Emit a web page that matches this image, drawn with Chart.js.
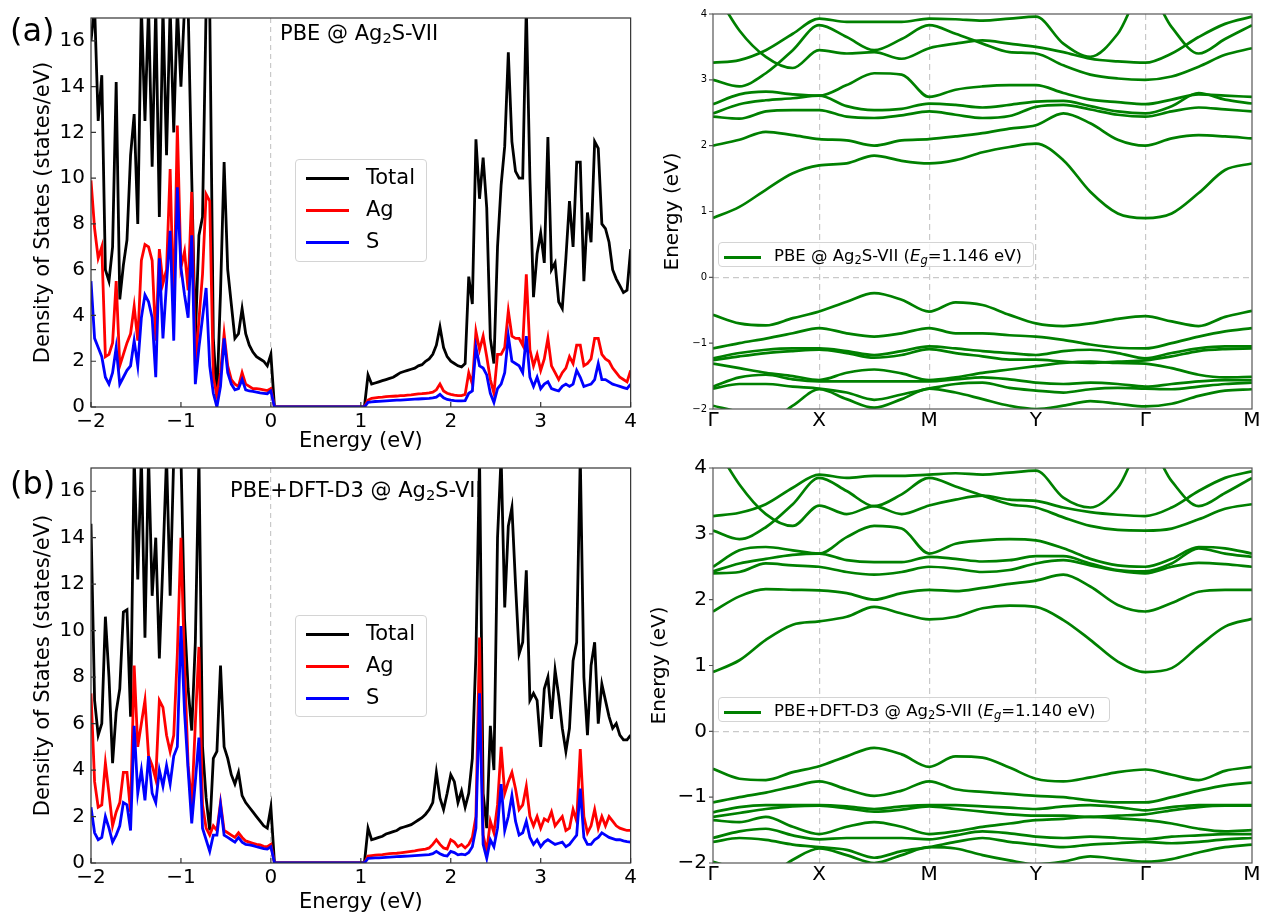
<!DOCTYPE html>
<html>
<head>
<meta charset="utf-8">
<script src="https://cdn.jsdelivr.net/npm/chart.js@4.4.1/dist/chart.umd.min.js"></script>
<style>
  html, body { margin: 0; padding: 0; background: #fff; }
  body { width: 1262px; height: 918px; position: relative; overflow: hidden;
         font-family: "DejaVu Sans", sans-serif; color: #000; }
  canvas { position: absolute; }
  .tag  { position: absolute; font-size: 32px; line-height: 1; }
  .note { position: absolute; font-size: 21px; line-height: 1; white-space: nowrap; }
  sub   { font-size: 0.7em; vertical-align: -0.22em; line-height: 0; }
  .leg  { position: absolute; box-sizing: border-box; background: rgba(255,255,255,.8);
          border: 1px solid #d4d4d4; border-radius: 4px; }
  .leg .sw  { position: absolute; height: 2.7px; }
  .leg .txt { position: absolute; line-height: 1; white-space: nowrap; }
</style>
</head>
<body>

<canvas id="dosA"  width="640" height="460" style="left:0;top:0"></canvas>
<canvas id="dosB"  width="640" height="478" style="left:0;top:440px"></canvas>
<canvas id="bandA" width="622" height="440" style="left:640px;top:0"></canvas>
<canvas id="bandB" width="622" height="478" style="left:640px;top:440px"></canvas>

<div class="tag" style="left:10px;top:14px">(a)</div>
<div class="tag" style="left:10px;top:467px">(b)</div>

<div class="note" style="left:280px;top:23px">PBE @ Ag<sub>2</sub>S-VII</div>
<div class="note" style="left:230px;top:480px">PBE+DFT-D3 @ Ag<sub>2</sub>S-VII</div>

<!-- DOS legends -->
<div class="leg" style="left:295px;top:159px;width:132px;height:103px">
  <div class="sw" style="left:10px;width:43px;top:17px;background:#000"></div>
  <div class="txt" style="left:70px;top:7px;font-size:21px">Total</div>
  <div class="sw" style="left:10px;width:43px;top:49px;background:#ff0000"></div>
  <div class="txt" style="left:70px;top:39px;font-size:21px">Ag</div>
  <div class="sw" style="left:10px;width:43px;top:81px;background:#0000ff"></div>
  <div class="txt" style="left:70px;top:71px;font-size:21px">S</div>
</div>
<div class="leg" style="left:295px;top:615px;width:132px;height:102px">
  <div class="sw" style="left:10px;width:43px;top:17px;background:#000"></div>
  <div class="txt" style="left:70px;top:7px;font-size:21px">Total</div>
  <div class="sw" style="left:10px;width:43px;top:49px;background:#ff0000"></div>
  <div class="txt" style="left:70px;top:39px;font-size:21px">Ag</div>
  <div class="sw" style="left:10px;width:43px;top:81px;background:#0000ff"></div>
  <div class="txt" style="left:70px;top:71px;font-size:21px">S</div>
</div>

<!-- band legends -->
<div class="leg" style="left:718px;top:242px;width:316px;height:25px">
  <div class="sw" style="left:5px;width:37px;top:13px;background:#008000"></div>
  <div class="txt" style="left:55px;top:5px;font-size:16.5px">PBE @ Ag<sub>2</sub>S-VII (<i>E</i><sub><i>g</i></sub>=1.146 eV)</div>
</div>
<div class="leg" style="left:718px;top:697px;width:392px;height:25px">
  <div class="sw" style="left:5px;width:37px;top:13px;background:#008000"></div>
  <div class="txt" style="left:55px;top:5px;font-size:16.5px">PBE+DFT-D3 @ Ag<sub>2</sub>S-VII (<i>E</i><sub><i>g</i></sub>=1.140 eV)</div>
</div>

<script>
// ---------- DOS data (states/eV), energy grid -2..4 eV every 0.04 eV ----------
const dosEnergy = [];
for (let i = 0; i <= 150; i++) dosEnergy.push(+(-2 + i * 0.04).toFixed(2));

// band gap: 0.04 .. 1.04 eV
const gapZeros = [0,0,0,0,0,0,0,0,0,0,0,0,0,0,0,0,0,0,0,0,0,0,0,0,0,0];

// (a) PBE  -- valence part (-2..0) and conduction part (1.08..4)
const totalA_vb = [16,17.5,12.5,14.5,6,5.5,7,14.2,4.7,6.2,7.3,11,12.8,8,17.5,12.5,17.5,10.5,17.5,8.3,17.5,11,17.5,12,17.5,14,17.5,17.5,10,3,7.5,8.3,17.5,17.5,3,0.4,5,10.7,6,4.5,3,3.2,4.3,3.2,2.7,2.4,2.2,2.1,2.0,1.8,2.3];
const totalA_cb = [1.4,1.0,1.05,1.1,1.15,1.2,1.25,1.3,1.4,1.5,1.55,1.6,1.65,1.7,1.8,1.85,2.0,2.1,2.3,2.7,3.5,2.6,2.2,2.0,1.9,1.8,1.75,1.9,5.7,4.5,11.7,9.1,10.9,8.7,3.0,1.9,7.0,9.7,11.4,15.5,11.6,10.3,10.0,10.0,17.5,10.0,4.8,6.7,7.6,6.3,11.8,6.0,6.3,4.6,4.3,6.5,9.0,7.0,10.7,10.7,5.5,8.5,7.2,11.6,11.3,8.0,7.8,7.2,6.0,5.6,5.3,5.0,5.1,6.9];
const agA_vb = [9.9,7.8,6.5,7.0,2.2,2.3,2.8,5.5,1.8,2.3,2.8,3.2,4.4,2.9,6.4,7.1,7.0,6.4,2.9,6.9,5.4,6.0,10.4,4.1,12.3,6.1,6.8,5.1,9.4,1.8,3.8,5.8,9.3,9.0,1.3,0.5,1.5,3.2,1.8,1.2,1.0,0.9,1.5,1.0,0.9,0.8,0.8,0.78,0.75,0.72,0.8];
const agA_cb = [0.3,0.38,0.4,0.42,0.43,0.45,0.46,0.47,0.48,0.5,0.5,0.52,0.53,0.55,0.57,0.58,0.6,0.62,0.65,0.75,1.0,0.7,0.6,0.55,0.52,0.5,0.5,0.55,1.5,1.0,3.3,2.5,3.1,2.2,1.2,0.6,2.3,2.3,2.6,4.2,3.1,3.0,3.0,2.7,5.8,2.5,1.8,2.3,1.6,2.1,3.0,1.8,1.5,1.2,1.5,1.7,2.2,1.9,2.7,2.7,1.8,1.9,2.1,3.0,3.0,2.3,2.1,2.0,1.7,1.5,1.3,1.2,1.1,1.6];
const sA_vb = [5.5,3.0,2.6,2.2,1.3,1.0,1.5,2.6,1.0,1.3,1.6,1.8,2.9,1.8,3.9,4.9,4.6,3.9,1.3,6.5,3.0,5.4,7.7,2.9,9.6,6.1,4.9,3.9,7.5,1.0,2.6,3.9,5.2,1.8,0.6,0.0,0.9,3.0,1.5,1.0,0.75,0.8,1.2,0.75,0.7,0.68,0.65,0.62,0.6,0.58,0.7];
const sA_cb = [0.2,0.22,0.24,0.25,0.26,0.27,0.28,0.29,0.3,0.3,0.31,0.32,0.33,0.34,0.35,0.36,0.37,0.38,0.4,0.43,0.55,0.4,0.33,0.3,0.28,0.27,0.27,0.28,0.6,0.7,2.6,1.8,1.7,1.4,0.6,0.2,0.8,1.0,1.5,3.1,2.0,1.9,1.8,1.5,3.1,1.3,0.9,1.3,0.8,1.0,1.1,0.8,0.75,0.7,0.9,1.0,0.9,1.0,1.6,1.3,0.9,0.95,1.0,1.2,1.9,1.2,1.2,1.1,1.0,0.95,0.9,0.85,0.8,1.0];

// (b) PBE+DFT-D3
const totalB_vb = [14.6,7.0,5.5,6.0,10.6,8.0,4.3,6.5,7.5,10.8,10.9,6.3,17.5,12.2,17.5,9.7,17.5,11.5,14,8.8,13,17.5,11.5,17.5,17.5,17.5,10.5,7.5,5.7,9.5,17.5,5.0,2.8,1.4,4.5,4.8,8.5,5.0,4.5,3.8,3.4,3.9,2.9,2.6,2.4,2.2,2.0,1.8,1.6,1.5,2.4];
const totalB_cb = [1.5,1.0,1.05,1.1,1.15,1.25,1.3,1.35,1.4,1.5,1.55,1.6,1.65,1.75,1.85,1.95,2.1,2.3,2.6,3.9,2.8,2.3,3.0,3.8,3.5,2.6,3.1,2.4,3.0,4.5,9.0,17.5,3.0,1.5,5.9,4.0,14,17.5,11,14.5,15.3,12,9.0,9.5,12.6,7.0,7.3,7.0,5.0,7.5,8.0,6.2,8.3,7.2,5.8,4.8,5.8,8.7,9.5,17.5,8.0,5.5,8.5,9.5,6.0,7.7,7.0,6.3,5.8,6.0,5.5,5.3,5.3,5.5];
const agB_vb = [7.3,3.5,2.4,2.5,4.3,3.0,1.6,2.2,2.6,3.9,3.9,2.2,8.5,5.0,6.0,7.0,4.6,4.2,3.6,7.0,6.7,5.5,4.8,5.5,9.0,14.0,8.5,4.2,2.5,6.0,9.3,2.5,1.5,1.2,1.6,1.4,2.6,1.4,1.3,1.2,1.1,1.3,1.1,0.95,0.9,0.85,0.8,0.78,0.72,0.7,0.8];
const agB_cb = [0.3,0.32,0.34,0.35,0.36,0.38,0.4,0.41,0.42,0.44,0.46,0.48,0.5,0.52,0.55,0.58,0.6,0.65,0.8,1.0,0.8,0.65,0.6,1.0,0.9,0.7,0.8,0.65,0.8,1.1,2.0,9.7,1.2,0.5,1.8,1.3,2.5,5.0,3.0,3.5,3.9,3.2,2.3,2.5,3.3,2.0,1.6,2.0,1.5,1.9,1.8,2.2,1.6,1.8,2.0,1.4,1.5,2.3,1.8,4.9,2.0,1.3,1.6,2.3,1.5,2.0,1.6,2.0,1.8,1.6,1.5,1.45,1.4,1.4];
const sB_vb = [2.4,1.3,1.0,1.1,2.0,1.5,0.9,1.2,1.6,2.6,2.5,1.4,5.9,3.0,4.0,2.7,4.6,3.0,2.6,4.0,3.3,4.2,3.4,4.6,5.0,10.2,6.5,4.0,1.7,3.5,5.4,1.5,1.0,0.5,1.2,1.2,2.5,1.2,1.1,1.0,0.9,1.1,0.9,0.8,0.78,0.75,0.7,0.66,0.62,0.6,0.7];
const sB_cb = [0.2,0.21,0.22,0.22,0.23,0.24,0.25,0.26,0.27,0.28,0.29,0.3,0.31,0.32,0.33,0.34,0.35,0.36,0.4,0.5,0.4,0.33,0.3,0.5,0.45,0.35,0.38,0.35,0.45,0.7,1.5,7.3,0.8,0.2,1.0,0.7,1.5,3.4,1.4,2.0,2.9,1.8,1.2,1.3,1.8,1.1,0.8,1.0,0.7,0.9,1.0,0.9,0.8,0.85,0.9,0.7,0.8,1.0,1.2,3.2,1.1,0.8,0.8,1.0,1.1,1.3,1.2,1.1,1.05,1.0,1.0,0.95,0.92,0.9];

const dosXTicks = [-2, -1, 0, 1, 2, 3, 4];
const dosYTicks = [0, 2, 4, 6, 8, 10, 12, 14, 16];

// ---------- band structure: k path Γ-X-M-Y-Γ-M ----------
const kLabels  = ['Γ', 'X', 'M', 'Y', 'Γ', 'M'];
const kTickPos = [0, 0.197, 0.401, 0.599, 0.802, 1.0];
const kPts = [0, 0.049, 0.098, 0.148, 0.197, 0.248, 0.299, 0.350, 0.401, 0.450, 0.500,
              0.550, 0.599, 0.650, 0.700, 0.751, 0.802, 0.851, 0.901, 0.950, 1.0];
const bandYTicks = [-2, -1, 0, 1, 2, 3, 4];

const bandsA = [
  [0.90,1.07,1.33,1.58,1.70,1.73,1.85,1.77,1.73,1.78,1.90,1.98,2.03,1.78,1.30,0.97,0.90,0.97,1.28,1.63,1.73],
  [2.00,2.09,2.21,2.16,2.10,2.08,2.00,2.08,2.10,2.14,2.19,2.26,2.31,2.49,2.34,2.09,2.00,2.11,2.16,2.14,2.11],
  [2.44,2.41,2.52,2.54,2.54,2.44,2.42,2.46,2.52,2.47,2.42,2.45,2.59,2.62,2.55,2.47,2.44,2.52,2.58,2.55,2.52],
  [2.49,2.63,2.69,2.72,2.76,2.60,2.54,2.56,2.64,2.62,2.58,2.62,2.67,2.68,2.60,2.52,2.49,2.60,2.80,2.70,2.64],
  [2.63,2.78,2.82,2.78,2.76,2.92,3.10,3.08,2.74,2.85,2.90,2.92,2.92,2.80,2.70,2.66,2.63,2.70,2.78,2.76,2.74],
  [3.00,2.90,3.10,3.45,3.83,3.65,3.45,3.62,3.83,3.70,3.55,3.42,3.40,3.22,3.08,3.02,3.00,3.05,3.20,3.38,3.48],
  [3.26,3.30,3.45,3.70,3.93,3.88,3.88,3.88,3.93,3.92,3.90,3.93,3.96,3.55,3.35,3.70,4.40,3.80,3.40,3.62,3.83],
  [4.40,3.75,3.35,3.18,3.45,3.40,3.42,3.32,3.48,3.55,3.60,3.55,3.50,3.42,3.32,3.28,3.26,3.40,3.65,3.85,3.96],
  [-0.57,-0.70,-0.73,-0.62,-0.52,-0.37,-0.24,-0.34,-0.52,-0.38,-0.42,-0.57,-0.70,-0.74,-0.70,-0.63,-0.59,-0.67,-0.74,-0.60,-0.51],
  [-1.08,-1.00,-0.93,-0.85,-0.77,-0.85,-0.90,-0.85,-0.77,-0.85,-0.85,-0.88,-0.90,-0.95,-1.02,-1.07,-1.08,-1.00,-0.90,-0.82,-0.77],
  [-1.23,-1.15,-1.10,-1.08,-1.08,-1.12,-1.18,-1.12,-1.05,-1.08,-1.12,-1.15,-1.18,-1.12,-1.10,-1.15,-1.23,-1.15,-1.08,-1.05,-1.05],
  [-1.26,-1.20,-1.15,-1.12,-1.10,-1.15,-1.22,-1.18,-1.09,-1.15,-1.20,-1.25,-1.25,-1.28,-1.30,-1.28,-1.26,-1.20,-1.12,-1.09,-1.08],
  [-1.31,-1.38,-1.45,-1.50,-1.56,-1.45,-1.40,-1.46,-1.56,-1.52,-1.45,-1.40,-1.35,-1.30,-1.28,-1.30,-1.31,-1.38,-1.48,-1.52,-1.51],
  [-1.66,-1.52,-1.48,-1.55,-1.58,-1.58,-1.58,-1.58,-1.58,-1.55,-1.52,-1.55,-1.60,-1.62,-1.60,-1.62,-1.66,-1.62,-1.58,-1.56,-1.56],
  [-1.69,-1.62,-1.62,-1.66,-1.69,-1.75,-1.86,-1.78,-1.69,-1.62,-1.60,-1.68,-1.72,-1.75,-1.70,-1.68,-1.69,-1.70,-1.66,-1.62,-1.60],
  [-1.95,-2.05,-2.20,-1.95,-1.70,-1.85,-1.98,-1.85,-1.69,-1.75,-1.85,-1.95,-2.00,-1.95,-1.88,-1.92,-1.96,-1.92,-1.80,-1.72,-1.70]
];

const bandsB = [
  [0.90,1.08,1.39,1.62,1.67,1.74,1.89,1.79,1.70,1.74,1.87,1.91,1.89,1.69,1.39,1.06,0.90,0.96,1.29,1.59,1.71],
  [1.82,2.05,2.16,2.15,2.14,2.10,2.00,2.10,2.15,2.13,2.18,2.24,2.29,2.38,2.20,1.92,1.82,1.95,2.12,2.15,2.15],
  [2.40,2.42,2.55,2.52,2.50,2.42,2.38,2.42,2.50,2.47,2.42,2.45,2.55,2.60,2.52,2.44,2.40,2.50,2.56,2.54,2.50],
  [2.43,2.55,2.62,2.68,2.70,2.60,2.57,2.57,2.65,2.62,2.58,2.60,2.66,2.66,2.55,2.45,2.43,2.55,2.78,2.70,2.65],
  [2.50,2.75,2.80,2.75,2.70,2.95,3.12,3.08,2.70,2.85,2.90,2.92,2.90,2.78,2.62,2.52,2.50,2.62,2.80,2.78,2.70],
  [3.05,2.92,3.10,3.45,3.85,3.65,3.42,3.60,3.85,3.72,3.58,3.45,3.40,3.25,3.12,3.06,3.05,3.08,3.22,3.38,3.45],
  [3.27,3.32,3.45,3.70,3.90,3.85,3.88,3.88,3.90,3.92,3.90,3.93,3.96,3.55,3.40,3.70,4.40,3.80,3.42,3.62,3.85],
  [4.40,3.75,3.30,3.12,3.43,3.30,3.42,3.30,3.43,3.52,3.58,3.52,3.50,3.40,3.33,3.29,3.27,3.40,3.65,3.85,3.95],
  [-0.57,-0.72,-0.74,-0.62,-0.53,-0.38,-0.25,-0.35,-0.54,-0.38,-0.40,-0.55,-0.72,-0.76,-0.70,-0.62,-0.58,-0.66,-0.74,-0.60,-0.54],
  [-1.08,-1.00,-0.93,-0.84,-0.76,-0.88,-0.98,-0.90,-0.76,-0.88,-0.92,-0.95,-0.98,-1.00,-1.05,-1.08,-1.08,-1.00,-0.90,-0.82,-0.78],
  [-1.23,-1.15,-1.12,-1.12,-1.12,-1.14,-1.18,-1.14,-1.12,-1.12,-1.14,-1.16,-1.18,-1.14,-1.12,-1.15,-1.20,-1.15,-1.12,-1.12,-1.12],
  [-1.30,-1.24,-1.18,-1.14,-1.13,-1.17,-1.22,-1.19,-1.14,-1.18,-1.22,-1.26,-1.28,-1.28,-1.30,-1.28,-1.26,-1.20,-1.15,-1.13,-1.13],
  [-1.35,-1.38,-1.30,-1.45,-1.56,-1.45,-1.38,-1.45,-1.56,-1.52,-1.45,-1.40,-1.35,-1.33,-1.30,-1.32,-1.35,-1.40,-1.48,-1.52,-1.50],
  [-1.62,-1.52,-1.48,-1.58,-1.64,-1.62,-1.62,-1.62,-1.64,-1.58,-1.52,-1.55,-1.60,-1.62,-1.60,-1.62,-1.64,-1.60,-1.58,-1.56,-1.56],
  [-1.68,-1.62,-1.65,-1.72,-1.76,-1.80,-1.92,-1.82,-1.76,-1.68,-1.62,-1.68,-1.72,-1.76,-1.72,-1.70,-1.68,-1.70,-1.68,-1.64,-1.62],
  [-1.98,-2.10,-2.20,-1.95,-1.78,-1.88,-2.00,-1.88,-1.76,-1.78,-1.88,-1.96,-2.02,-1.98,-1.90,-1.94,-1.98,-1.94,-1.84,-1.76,-1.72]
];

// ---------- helpers ----------
const FONT = '"DejaVu Sans", sans-serif';
Chart.defaults.font.family = FONT;
Chart.defaults.color = '#000';

const fmtNum = v => (v < 0 ? '\u2212' + Math.abs(v) : String(v));
const pts = ys => ys.map((y, i) => ({ x: dosEnergy[i], y }));
const setTicks = arr => scale => { scale.ticks = arr.map(v => ({ value: v })); };
const GRID = '#c9c9c9';

/* frame + tick marks (DOS: inward, bands: outward on y) */
const axisFrame = {
  id: 'axisFrame',
  afterDatasetsDraw(chart, args, o) {
    const { ctx, chartArea: a, scales } = chart;
    ctx.save();
    ctx.strokeStyle = o.color || '#333';
    ctx.lineWidth = 1.2;
    ctx.beginPath();
    const L = o.tickLen || 0;
    if (o.xTicks) scales.x.ticks.forEach(t => {
      const px = scales.x.getPixelForValue(t.value);
      ctx.moveTo(px, a.bottom); ctx.lineTo(px, a.bottom + (o.inward ? -L : L));
    });
    if (o.yTicks) scales.y.ticks.forEach(t => {
      const py = scales.y.getPixelForValue(t.value);
      ctx.moveTo(a.left, py); ctx.lineTo(a.left + (o.inward ? L : -L), py);
    });
    ctx.stroke();
    ctx.strokeRect(a.left, a.top, a.right - a.left, a.bottom - a.top);
    ctx.restore();
  }
};

function dosChart(id, tot, ag, s, pad, xH, xTitlePad) {
  return new Chart(document.getElementById(id), {
    type: 'line',
    data: {
      datasets: [
        { label: 'S',     data: pts(s),   borderColor: '#0000ff' },
        { label: 'Ag',    data: pts(ag),  borderColor: '#ff0000' },
        { label: 'Total', data: pts(tot), borderColor: '#000000' }
      ]
    },
    options: {
      responsive: false, animation: false, events: [], devicePixelRatio: 1,
      layout: { padding: pad, autoPadding: false },
      elements: { point: { radius: 0 }, line: { borderWidth: 2.8, tension: 0 } },
      plugins: { legend: { display: false }, tooltip: { enabled: false },
                 axisFrame: { inward: true, tickLen: 5, xTicks: true, yTicks: true, color: '#333' } },
      scales: {
        x: {
          type: 'linear', min: -2, max: 4,
          afterBuildTicks: setTicks(dosXTicks),
          afterFit: sc => { sc.height = xH; },
          border: { display: false, dash: [5, 4] },
          grid: { drawTicks: false, lineWidth: 1.2,
                  color: c => (c.tick && c.tick.value === 0 ? GRID : 'rgba(0,0,0,0)') },
          ticks: { font: { size: 20 }, padding: 3, callback: fmtNum, maxRotation: 0 },
          title: { display: true, text: 'Energy (eV)', font: { size: 21 }, padding: { top: 0, bottom: xTitlePad } }
        },
        y: {
          min: 0, max: 17,
          afterBuildTicks: setTicks(dosYTicks),
          afterFit: sc => { sc.width = 91; },
          border: { display: false },
          grid: { display: false, drawTicks: false },
          ticks: { font: { size: 20 }, padding: 6, callback: fmtNum },
          title: { display: true, text: 'Density of States (states/eV)', font: { size: 21 }, padding: { top: 31, bottom: 0 } }
        }
      }
    },
    plugins: [axisFrame]
  });
}

function bandChart(id, bands, pad, xH, yFont, yTitlePad) {
  return new Chart(document.getElementById(id), {
    type: 'line',
    data: {
      datasets: bands.map(b => ({
        data: kPts.map((k, i) => ({ x: k, y: b[i] })),
        borderColor: '#008000', borderWidth: 2.7,
        pointRadius: 0, cubicInterpolationMode: 'monotone'
      }))
    },
    options: {
      responsive: false, animation: false, events: [], devicePixelRatio: 1,
      layout: { padding: pad, autoPadding: false },
      plugins: { legend: { display: false }, tooltip: { enabled: false },
                 axisFrame: { inward: false, tickLen: 4, xTicks: false, yTicks: true, color: '#555' } },
      scales: {
        x: {
          type: 'linear', min: 0, max: 1,
          afterBuildTicks: setTicks(kTickPos),
          afterFit: sc => { sc.height = xH; },
          border: { display: false, dash: [6, 4] },
          grid: { drawTicks: false, lineWidth: 1.2,
                  color: c => (c.index > 0 && c.index < kTickPos.length - 1 ? GRID : 'rgba(0,0,0,0)') },
          ticks: { font: { size: 20 }, padding: 0, maxRotation: 0, autoSkip: false,
                   callback: (v, i) => kLabels[i] }
        },
        y: {
          min: -2, max: 4,
          afterBuildTicks: setTicks(bandYTicks),
          afterFit: sc => { sc.width = 73; },
          border: { display: false, dash: [6, 4] },
          grid: { drawTicks: false, lineWidth: 1.2,
                  color: c => (c.tick && c.tick.value === 0 ? GRID : 'rgba(0,0,0,0)') },
          ticks: { font: { size: yFont }, padding: 6, callback: fmtNum },
          title: { display: true, text: 'Energy (eV)', font: { size: 20 }, padding: { top: yTitlePad, bottom: 0 } }
        }
      }
    },
    plugins: [axisFrame]
  });
}

dosChart('dosA', [...totalA_vb, ...gapZeros, ...totalA_cb], [...agA_vb, ...gapZeros, ...agA_cb],
         [...sA_vb, ...gapZeros, ...sA_cb], { left: 0, top: 13, right: 9, bottom: 0 }, 53, 6);
dosChart('dosB', [...totalB_vb, ...gapZeros, ...totalB_cb], [...agB_vb, ...gapZeros, ...agB_cb],
         [...sB_vb, ...gapZeros, ...sB_cb], { left: 0, top: 28, right: 9, bottom: 0 }, 55, 3);
bandChart('bandA', bandsA, { left: 0, top: 14, right: 10, bottom: 0 }, 31, 10, 21);
bandChart('bandB', bandsB, { left: 0, top: 28, right: 10, bottom: 0 }, 55, 20, 8);
</script>
</body>
</html>
